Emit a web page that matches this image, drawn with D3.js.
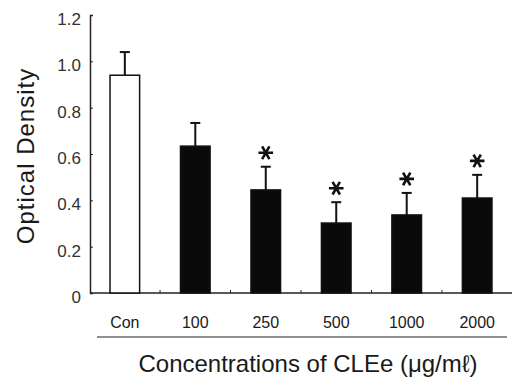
<!DOCTYPE html>
<html>
<head>
<meta charset="utf-8">
<script src="https://cdn.jsdelivr.net/npm/d3@7"></script>
<style>
  body { margin: 0; background: #fff; }
  text { font-family: "Liberation Sans", Arial, sans-serif; fill: #1a1a1a; }
</style>
</head>
<body>
<div id="chart"></div>
<script>
// chart values
const categories = ['Con', '100', '250', '500', '1000', '2000'];
const means = [0.94, 0.634, 0.445, 0.302, 0.337, 0.41];
const sds = [0.10, 0.10, 0.10, 0.09, 0.095, 0.10];
const significant = [false, false, true, true, true, true];
const yTicks = [0, 0.2, 0.4, 0.6, 0.8, 1.0, 1.2];

const width = 513;
const height = 380;
const margin = {top: 15, left: 90};

const svg = d3.select('#chart').append('svg')
  .attr('width', width)
  .attr('height', height);

const x = d3.scaleBand()
  .domain(categories)
  .range([91, 511])
  .paddingInner(0.58)
  .paddingOuter(0.27);

const y = d3.scaleLinear()
  .domain([0, 1.2])
  .range([293, margin.top]);

// y axis
const yAxis = svg.append('g')
  .attr('transform', `translate(${margin.left},0)`)
  .call(d3.axisRight(y).tickValues(yTicks).tickSize(3)
    .tickFormat(d => d === 0 ? '0' : d3.format('.1f')(d)));
yAxis.select('.domain').attr('stroke', '#222').attr('stroke-width', 1.5);
yAxis.selectAll('.tick line').attr('stroke', '#222');
yAxis.selectAll('.tick text')
  .attr('x', -9)
  .attr('dy', '0.55em')
  .attr('text-anchor', 'end')
  .style('font-size', '17px')
  .style('fill', '#333');

// x axis baseline with small marks between groups
svg.append('line')
  .attr('x1', 90).attr('x2', 512)
  .attr('y1', y(0)).attr('y2', y(0))
  .attr('stroke', '#222').attr('stroke-width', 1.5);

const mids = categories.slice(1).map((c, i) =>
  (x(categories[i]) + x.bandwidth() + x(c)) / 2);
svg.selectAll('.minor')
  .data(mids)
  .join('line')
  .attr('class', 'minor')
  .attr('x1', d => d).attr('x2', d => d)
  .attr('y1', y(0)).attr('y2', y(0) - 3)
  .attr('stroke', '#222');

// error bars (upper only)
const err = svg.selectAll('.err')
  .data(categories)
  .join('g')
  .attr('class', 'err');
err.append('line')
  .attr('x1', d => x(d) + x.bandwidth() / 2)
  .attr('x2', d => x(d) + x.bandwidth() / 2)
  .attr('y1', (d, i) => y(means[i]))
  .attr('y2', (d, i) => y(means[i] + sds[i]))
  .attr('stroke', '#111').attr('stroke-width', 2);
err.append('line')
  .attr('x1', d => x(d) + x.bandwidth() / 2 - 5)
  .attr('x2', d => x(d) + x.bandwidth() / 2 + 5)
  .attr('y1', (d, i) => y(means[i] + sds[i]))
  .attr('y2', (d, i) => y(means[i] + sds[i]))
  .attr('stroke', '#111').attr('stroke-width', 2);

// bars
svg.selectAll('.bar')
  .data(categories)
  .join('rect')
  .attr('class', 'bar')
  .attr('x', d => x(d))
  .attr('y', (d, i) => y(means[i]))
  .attr('width', x.bandwidth())
  .attr('height', (d, i) => y(0) - y(means[i]))
  .attr('fill', (d, i) => i === 0 ? '#fff' : '#0a0a0a')
  .attr('stroke', '#111')
  .attr('stroke-width', 1.5);

// significance stars
const star = d3.symbol().type(d3.symbolAsterisk).size(150);
svg.selectAll('.star')
  .data(categories.filter((d, i) => significant[i]))
  .join('path')
  .attr('class', 'star')
  .attr('transform', d => {
    const i = categories.indexOf(d);
    return `translate(${x(d) + x.bandwidth() / 2},${y(means[i] + sds[i]) - 14}) rotate(90)`;
  })
  .attr('d', star)
  .attr('fill', 'none')
  .attr('stroke', '#111')
  .attr('stroke-width', 2.6);

// category labels
svg.selectAll('.cat')
  .data(categories)
  .join('text')
  .attr('class', 'cat')
  .attr('x', d => x(d) + x.bandwidth() / 2)
  .attr('y', 328)
  .attr('text-anchor', 'middle')
  .style('font-size', '16px')
  .text(d => d);

svg.append('line')
  .attr('x1', 97).attr('x2', 507)
  .attr('y1', 337).attr('y2', 337)
  .attr('stroke', '#222').attr('stroke-width', 1.2);

// axis titles
svg.append('text')
  .attr('x', 308)
  .attr('y', 372)
  .attr('text-anchor', 'middle')
  .style('font-size', '24px')
  .text('Concentrations of CLEe (\u03bcg/m\u2113)');

svg.append('text')
  .attr('transform', 'translate(34,156) rotate(-90)')
  .attr('text-anchor', 'middle')
  .style('font-size', '24px')
  .style('letter-spacing', '1px')
  .text('Optical Density');
</script>
</body>
</html>
